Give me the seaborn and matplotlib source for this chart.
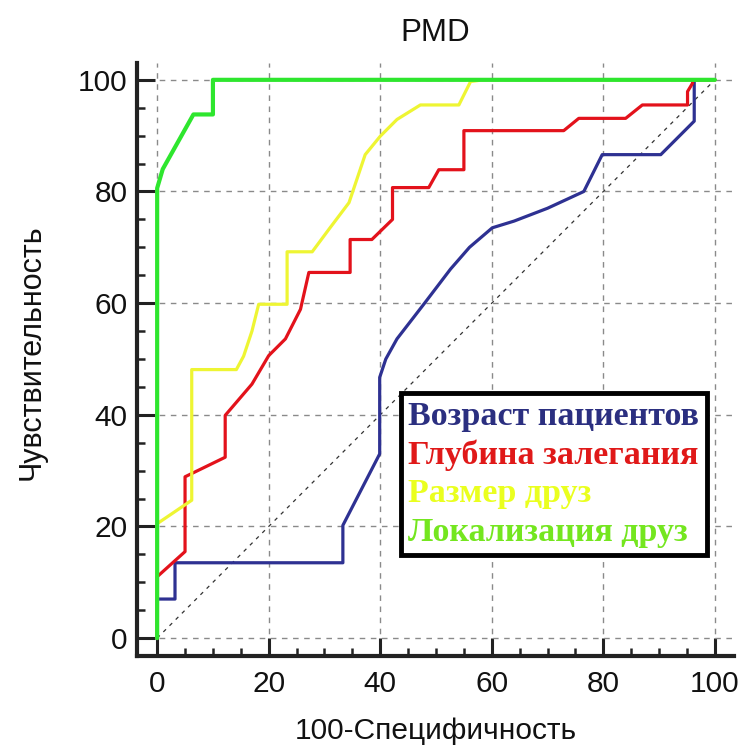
import matplotlib
matplotlib.use("Agg")
import matplotlib.pyplot as plt
import seaborn as sns
from matplotlib.ticker import MultipleLocator

# =========================
# Data
# =========================
age_x = [0, 0, 3.2, 3.2, 33.3, 33.3, 39.9, 39.9, 41, 43, 47.8, 52.6, 56, 60.1, 64, 70, 76.5, 79.8, 90.3, 96.3, 96.3, 100]
age_y = [0, 7, 7, 13.5, 13.5, 20.2, 33, 46.7, 50, 53.6, 59.8, 66.1, 70, 73.5, 74.7, 77, 80, 86.6, 86.6, 92.6, 100, 100]

depth_x = [0, 0, 5, 5, 12.2, 12.2, 17, 20, 23, 25.7, 27.2, 34.6, 34.6, 38.5, 42.2, 42.2, 48.7, 50.5, 55, 55,
           72.9, 75.6, 84, 87, 95.1, 95.1, 96, 96, 100]
depth_y = [0, 11, 15.5, 28.9, 32.4, 39.9, 45.5, 50.6, 53.6, 58.9, 65.5, 65.5, 71.4, 71.4, 75, 80.7, 80.7, 83.9, 83.9, 90.9,
           90.9, 93.1, 93.1, 95.5, 95.5, 97.9, 99.4, 100, 100]

size_x = [0, 0, 6.2, 6.2, 14.2, 15.5, 17.0, 18.2, 23.3, 23.3, 27.8, 31, 34.4, 37.3, 40, 43, 47.2, 54.1, 56.2, 58.5, 100]
size_y = [0, 20.5, 24.7, 48.1, 48.1, 50.5, 55, 59.8, 59.8, 69.2, 69.2, 73.5, 78, 86.6, 89.9, 92.9, 95.5, 95.5, 99.7, 100, 100]

loc_x = [0, 0, 1, 6.5, 10, 10, 100]
loc_y = [0, 80.6, 84, 93.8, 93.8, 100, 100]

labels = ["Возраст пациентов", "Глубина залегания", "Размер друз", "Локализация друз"]
line_colors = ["#2e3192", "#e3121b", "#eef533", "#2ee62e"]
text_colors = ["#2b2f80", "#e01919", "#eaff1f", "#74e61f"]

# =========================
# Style
# =========================
sns.set_theme(style="white")
plt.rcParams["font.family"] = ["Liberation Sans", "DejaVu Sans"]

fig = plt.figure(figsize=(7.45, 7.51), dpi=100)
ax = fig.add_axes([0.184, 0.1265, 0.801, 0.7895])

# reference diagonal
ax.plot([0, 100], [0, 100], color="#333333", lw=0.9, dashes=(3, 4), zorder=1)

series = [(age_x, age_y), (depth_x, depth_y), (size_x, size_y), (loc_x, loc_y)]
for (xs, ys), lab, col in zip(series, labels, line_colors):
    lw = 3.0 if col == "#2ee62e" else 2.3
    sns.lineplot(x=xs, y=ys, ax=ax, estimator=None, sort=False, color=col, lw=lw, label=lab, zorder=3)

ax.set_xlim(-3.6, 103.4)
ax.set_ylim(-3.2, 103)
ax.xaxis.set_major_locator(MultipleLocator(20))
ax.yaxis.set_major_locator(MultipleLocator(20))
ax.xaxis.set_minor_locator(MultipleLocator(5))
ax.yaxis.set_minor_locator(MultipleLocator(5))

ax.grid(True, which="major", color="#8a8a8a", lw=1.0, linestyle=(0, (4, 4)))
ax.set_axisbelow(True)

for s in ["top", "right"]:
    ax.spines[s].set_visible(False)
for s in ["left", "bottom"]:
    ax.spines[s].set_color("#222222")
    ax.spines[s].set_linewidth(3)

ax.tick_params(which="major", direction="in", length=13, width=2.2, color="#222222", labelsize=21.5,
               labelcolor="#111111")
ax.tick_params(which="minor", direction="in", length=6, width=1.8, color="#222222")
ax.tick_params(axis="x", which="major", pad=10)
ax.tick_params(axis="y", which="major", pad=7)
ax.tick_params(left=True, bottom=True, which="both")

ax.set_title("PMD", fontsize=22.5, pad=16, color="#111111")
ax.set_xlabel("100-Специфичность", fontsize=21.5, labelpad=14, color="#111111")
ax.set_ylabel("Чувствительность", fontsize=22, color="#111111")
ax.yaxis.set_label_coords(-0.152, 0.513)

leg = ax.legend(loc="lower left", bbox_to_anchor=(0.442, 0.170), handlelength=0, handletextpad=0,
                labelcolor=text_colors, frameon=True, fancybox=False, framealpha=1, borderpad=0.22,
                labelspacing=0.22, prop={"family": "Liberation Serif", "weight": "bold", "size": 24.5},
                borderaxespad=0)
leg.get_frame().set_edgecolor("black")
leg.get_frame().set_linewidth(3.5)
for h in leg.legend_handles:
    h.set_visible(False)

fig.savefig("out.png", dpi=100)
